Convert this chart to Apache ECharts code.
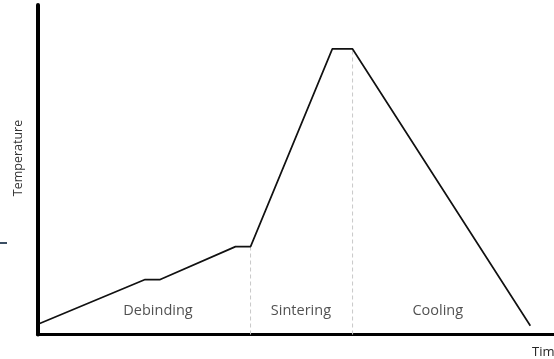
<!DOCTYPE html>
<html>
<head>
<meta charset="utf-8">
<script src="https://cdn.jsdelivr.net/npm/echarts@6/dist/echarts.min.js"></script>
<style>
  html, body { margin: 0; padding: 0; background: #fff; }
  #chart { width: 554px; height: 359px; }
</style>
</head>
<body>
<div id="chart"></div>
<script>
// Heating profile: time (arbitrary units) vs furnace temperature (°C)
const profileTime = [0.5, 25, 28.5, 46, 49.5, 68.5, 73.2, 114.5];
const profileTemp = [50, 250, 250, 400, 400, 1300, 1300, 40];

// Boundaries between stages (start of sintering, start of cooling)
const stageBoundaryTime = [49.5, 73.2];
const stageBoundaryTemp = [400, 1300];

// Stage names and where they are written
const stageNames = ['Debinding', 'Sintering', 'Cooling'];
const stageLabelTime = [28, 61.2, 93];
const stageLabelTemp = [108, 108, 108];

const xAxisTitle = 'Time';
const yAxisTitle = 'Temperature';

const chart = echarts.init(document.getElementById('chart'));

const profile = profileTime.map((t, i) => [t, profileTemp[i]]);
const boundarySeries = stageBoundaryTime.map((t, i) => ({
  type: 'line',
  data: [[t, 0], [t, stageBoundaryTemp[i]]],
  symbol: 'none',
  silent: true,
  lineStyle: { color: '#c8c8c8', width: 1, type: [4, 3] },
  z: 1
}));

const fontFamily = '"Open Sans", "Noto Sans", sans-serif';

chart.setOption({
  animation: false,
  grid: { left: 37.5, right: 0, top: 5, bottom: 24.5, containLabel: false },
  xAxis: {
    type: 'value',
    min: 0,
    max: 120,
    axisLine: { show: true, lineStyle: { color: '#000', width: 3 } },
    axisTick: { show: false },
    axisLabel: { show: false },
    splitLine: { show: false }
  },
  yAxis: {
    type: 'value',
    min: 0,
    max: 1500,
    axisLine: { show: true, lineStyle: { color: '#000', width: 4 } },
    axisTick: { show: false },
    axisLabel: { show: false },
    splitLine: { show: false }
  },
  series: [
    ...boundarySeries,
    {
      type: 'line',
      data: profile,
      symbol: 'none',
      lineStyle: { color: '#111', width: 1.7 },
      z: 3
    },
    {
      type: 'scatter',
      symbolSize: 0,
      silent: true,
      data: stageNames.map((n, i) => ({ value: [stageLabelTime[i], stageLabelTemp[i]], name: n })),
      label: {
        show: true,
        position: 'inside',
        formatter: p => p.name,
        color: '#262626',
        fontSize: 14.5,
        fontFamily: fontFamily
      }
    }
  ],
  graphic: [
    {
      type: 'text',
      x: 18,
      y: 158,
      rotation: Math.PI / 2,
      style: {
        text: yAxisTitle,
        fill: '#333',
        fontSize: 12.5,
        fontFamily: fontFamily,
        align: 'center',
        verticalAlign: 'middle'
      }
    },
    {
      type: 'text',
      x: 532,
      y: 352,
      style: {
        text: xAxisTitle,
        fill: '#262626',
        fontSize: 13,
        fontFamily: fontFamily,
        align: 'left',
        verticalAlign: 'middle'
      }
    },
    {
      type: 'line',
      shape: { x1: 0, y1: 243, x2: 7, y2: 243 },
      style: { stroke: '#3b4e63', lineWidth: 2 }
    }
  ]
});
</script>
</body>
</html>
